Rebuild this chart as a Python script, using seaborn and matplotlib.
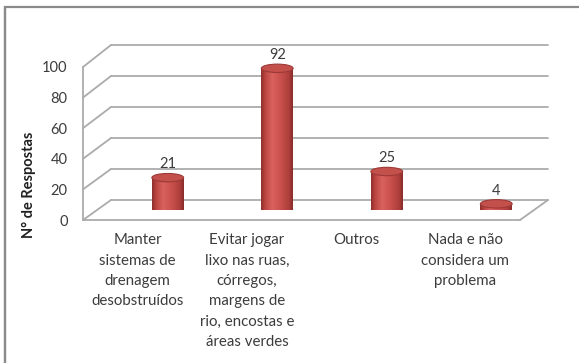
import numpy as np
import matplotlib
matplotlib.use("Agg")
import matplotlib.pyplot as plt
from matplotlib.colors import LinearSegmentedColormap
from matplotlib.patches import Ellipse, Rectangle
from matplotlib.lines import Line2D
import seaborn as sns

# ---- data ----
categorias = [
    "Manter\nsistemas de\ndrenagem\ndesobstruídos",
    "Evitar jogar\nlixo nas ruas,\ncórregos,\nmargens de\nrio, encostas e\náreas verdes",
    "Outros",
    "Nada e não\nconsidera um\nproblema",
]
respostas = [21, 92, 25, 4]
y_ticks = [0, 20, 40, 60, 80, 100]
y_label = "N° de Respostas"

sns.set_style("white")
plt.rcParams["font.family"] = ["Lato", "DejaVu Sans"]

W, H = 579, 363
fig = plt.figure(figsize=(W / 100, H / 100), dpi=100)
fig.patch.set_facecolor("white")


def fx(px):
    return px / W


def fy(py):
    return 1 - py / H


def box(x0, x1, y_bottom, y_top):
    return [fx(x0), fy(y_bottom), fx(x1) - fx(x0), fy(y_top) - fy(y_bottom)]


GRID = "#ababab"
TXT = "#3c3c3c"

# back wall with the horizontal gridlines
ax_back = fig.add_axes(box(111, 548, 200, 45))
ax_back.set_xlim(-0.5, 3.5)
ax_back.set_ylim(0, 100)
ax_back.set_yticks(y_ticks)
ax_back.set_xticks([])
ax_back.tick_params(left=False, labelleft=False)
ax_back.grid(axis="y", color=GRID, lw=1.3)
for gl in ax_back.get_ygridlines():
    gl.set_clip_on(False)
for s in ax_back.spines.values():
    s.set_visible(False)
ax_back.patch.set_alpha(0)

# plane on which the cylinders stand
ax_mid = fig.add_axes(box(113, 551, 210, 56))
sns.barplot(x=categorias, y=respostas, ax=ax_mid, width=0.29,
            color="#c0504d", saturation=1, zorder=3)
ax_mid.set_xlim(-0.5, 3.5)
ax_mid.set_ylim(0, 100)
ax_mid.axis("off")

# front plane: value axis and category axis
ax_front = fig.add_axes(box(83, 520, 220, 67))
ax_front.set_xlim(-0.5, 3.5)
ax_front.set_ylim(0, 100)
ax_front.patch.set_alpha(0)
ax_front.set_yticks(y_ticks)
ax_front.set_xticks(range(len(categorias)))
ax_front.set_xticklabels(categorias, linespacing=1.58)
ax_front.set_xticks(np.arange(-0.5, len(categorias), 1.0), minor=True)
ax_front.tick_params(axis="x", which="major", length=0, pad=9.5,
                     labelsize=10.8, labelcolor=TXT)
ax_front.tick_params(axis="x", which="minor", length=3.5, width=1,
                     color=GRID, direction="out")
ax_front.tick_params(axis="y", length=3.5, width=1, color=GRID, pad=7.5,
                     labelsize=10.5, labelcolor=TXT)
for side in ("top", "right"):
    ax_front.spines[side].set_visible(False)
for side in ("left", "bottom"):
    ax_front.spines[side].set_color(GRID)
    ax_front.spines[side].set_linewidth(1.3)

fig.text(fx(29), fy(185), y_label, rotation=90, ha="center", va="center",
         fontsize=10.5, fontweight="bold", color="#202020")

# depth edges joining the front plane to the back wall
inv = fig.transFigure.inverted()


def depth_edge(x, v):
    p0 = inv.transform(ax_front.transData.transform((x, v)))
    p1 = inv.transform(ax_back.transData.transform((x, v)))
    fig.add_artist(Line2D([p0[0], p1[0]], [p0[1], p1[1]],
                          transform=fig.transFigure, color=GRID, lw=1.3))


for v in y_ticks:
    depth_edge(-0.5, v)
depth_edge(3.5, 0)

# cylinders: shaded body, bottom and top ellipses
cyl = LinearSegmentedColormap.from_list("cyl", [
    (0.0, "#8e2f2d"), (0.12, "#b8433f"), (0.35, "#d9625e"),
    (0.62, "#c9504c"), (0.88, "#ad3e3b"), (1.0, "#862b29")])
grad = np.linspace(0, 1, 256).reshape(1, -1)
px_per_unit = (ax_mid.transData.transform((0, 100))[1]
               - ax_mid.transData.transform((0, 0))[1]) / 100
eh = 4.2 / px_per_unit

for bar in list(ax_mid.patches):
    x0, w, h = bar.get_x(), bar.get_width(), bar.get_height()
    cx = x0 + w / 2
    bottom = Ellipse((cx, 0), w, 2 * eh, facecolor="#b04643",
                     edgecolor="none", zorder=2)
    ax_mid.add_patch(bottom)
    im_b = ax_mid.imshow(grad, extent=(x0, x0 + w, -eh, eh), aspect="auto",
                         cmap=cyl, zorder=2.5, interpolation="bilinear")
    im_b.set_clip_path(bottom)
    bar.set_edgecolor("none")
    im = ax_mid.imshow(grad, extent=(x0, x0 + w, 0, h), aspect="auto",
                       cmap=cyl, zorder=3.5, interpolation="bilinear")
    im.set_clip_path(bar)
    top = Ellipse((cx, h), w, 2 * eh, facecolor="#c4504c",
                  edgecolor="#9c3936", lw=0.8, zorder=4)
    ax_mid.add_patch(top)

ax_mid.set_xlim(-0.5, 3.5)
ax_mid.set_ylim(0, 100)

for cont in ax_mid.containers:
    ax_mid.bar_label(cont, labels=[str(v) for v in respostas], padding=4.5,
                     fontsize=10.5, color=TXT)

# outer chart frame
fig.add_artist(Rectangle((fx(5), fy(7) - 2), 2, 2, transform=fig.transFigure,
                         facecolor="none", edgecolor="#8a8a8a", lw=1.6,
                         clip_on=False))
fig.add_artist(Line2D([fx(5), fx(5)], [fy(7), 0], transform=fig.transFigure,
                      color="#8a8a8a", lw=1.6))

fig.savefig("out.png", dpi=100)
